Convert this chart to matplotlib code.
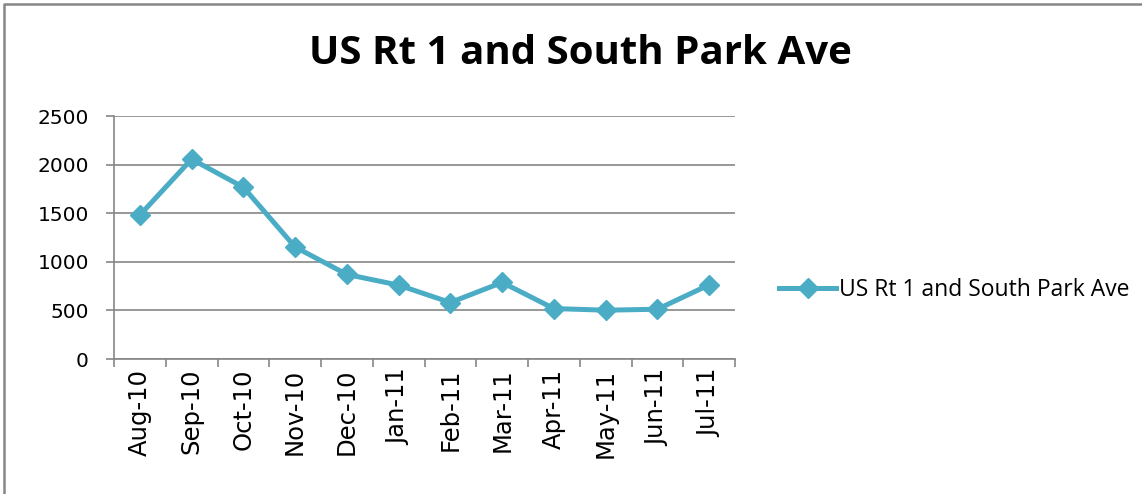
import matplotlib
matplotlib.use("Agg")
import matplotlib.pyplot as plt
from matplotlib.lines import Line2D

categories = ["Aug-10", "Sep-10", "Oct-10", "Nov-10", "Dec-10", "Jan-11",
              "Feb-11", "Mar-11", "Apr-11", "May-11", "Jun-11", "Jul-11"]
values = [1481, 2056, 1767, 1152, 870, 760, 581, 788, 519, 502, 512, 763]
series_name = "US Rt 1 and South Park Ave"
title = "US Rt 1 and South Park Ave"
yticks = [0, 500, 1000, 1500, 2000, 2500]

plt.rcParams['font.family'] = ['DejaVu Sans']
color = "#4BACC6"
grid_c = "#868686"

W, H = 1142, 494
fig = plt.figure(figsize=(W / 100, H / 100), dpi=100)
ax = fig.add_axes([114 / W, 1 - 359 / H, (735 - 114) / W, (359 - 116) / H])

x = list(range(len(categories)))
ax.plot(x, values, color=color, lw=3.6, marker="D", ms=10.5, mec=color, mfc=color,
        label=series_name, zorder=3)

ax.set_xlim(-0.5, len(categories) - 0.5)
ax.set_ylim(0, 2500)
ax.set_yticks(yticks)
ax.set_yticklabels([str(v) for v in yticks], fontsize=14.5)
ax.yaxis.grid(True, color=grid_c, lw=1.2)
ax.set_axisbelow(True)

ax.set_xticks(x)
ax.set_xticklabels(categories, rotation=90, fontsize=17.5)
ax.tick_params(axis="x", length=0, pad=7)
ax.set_xticks([i - 0.5 for i in range(len(categories) + 1)], minor=True)
ax.tick_params(axis="x", which="minor", length=6, color=grid_c, width=1.2)
ax.tick_params(axis="y", length=6, color=grid_c, width=1.2, pad=12)

for s in ["top", "right"]:
    ax.spines[s].set_visible(False)
for s in ["left", "bottom"]:
    ax.spines[s].set_color(grid_c)
    ax.spines[s].set_linewidth(1.2)

fig.text(580 / W, 1 - 54 / H, title, ha="center", va="center",
         fontsize=29, fontweight="bold", family=["Open Sans", "DejaVu Sans"])

ax.legend(loc="center left", bbox_to_anchor=(770 / W, 1 - 290 / H),
          bbox_transform=fig.transFigure, frameon=False,
          prop={"family": ["Open Sans", "DejaVu Sans"], "size": 16.5},
          handlelength=2.5, handletextpad=0.1, borderaxespad=0)

fig.lines.append(Line2D([3.5 / W, 3.5 / W, 1.0], [0.0, 1 - 4 / H, 1 - 4 / H],
                        transform=fig.transFigure, color=grid_c, lw=1.8))

fig.savefig("out.png", dpi=100)
